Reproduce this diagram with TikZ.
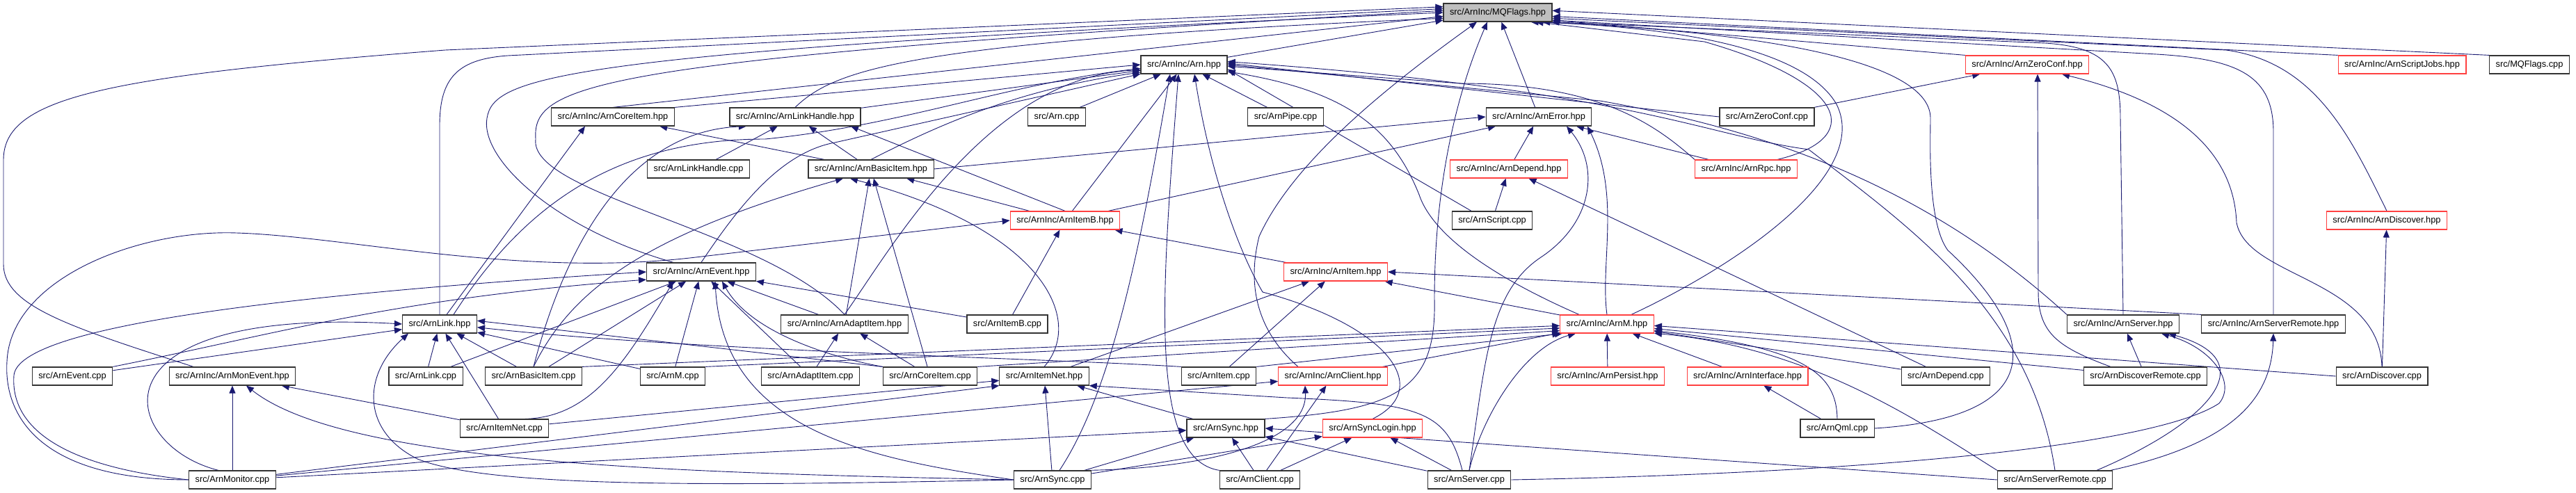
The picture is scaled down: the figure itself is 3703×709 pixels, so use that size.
\documentclass[tikz,border=0pt]{standalone}
\usepackage{fontspec}
\setmainfont{Liberation Sans}
\usetikzlibrary{arrows.meta}
\definecolor{edgeblue}{RGB}{25,25,112}
\definecolor{hdrred}{RGB}{255,64,64}
\definecolor{rootgray}{RGB}{191,191,191}
\pgfdeclarelayer{background}
\pgfsetlayers{background,main}

\begin{document}
\begin{tikzpicture}[
    x=1pt, y=-1pt,
    every node/.style={font=\fontsize{12.8}{15}\selectfont},
    filebox/.style={draw=black!80, line width=1.2pt, rectangle, fill=white, inner xsep=9pt, inner ysep=0pt, minimum height=26pt, text height=9.5pt, text depth=2.5pt},
    redbox/.style={filebox, draw=hdrred},
    rootbox/.style={filebox, fill=rootgray},
    arrow/.style={-{Triangle[length=11pt,width=9pt]}, line width=0.9pt, draw=edgeblue}
]
\useasboundingbox (0,0) rectangle (3703,709);

\node[rootbox] (mq) at (2153,18) {src/ArnInc/MQFlags.hpp};
\node[filebox] (arnh) at (1702,93) {src/ArnInc/Arn.hpp};
\node[redbox] (zeroconfh) at (2914,93) {src/ArnInc/ArnZeroConf.hpp};
\node[redbox] (scriptjobsh) at (3453,93) {src/ArnInc/ArnScriptJobs.hpp};
\node[filebox] (mqflagscpp) at (3636,93) {src/MQFlags.cpp};
\node[filebox] (coreitemh) at (881,168) {src/ArnInc/ArnCoreItem.hpp};
\node[filebox] (linkhandleh) at (1143,168) {src/ArnInc/ArnLinkHandle.hpp};
\node[filebox] (arncpp) at (1519,168) {src/Arn.cpp};
\node[filebox] (pipecpp) at (1848,168) {src/ArnPipe.cpp};
\node[filebox] (errorh) at (2212,168) {src/ArnInc/ArnError.hpp};
\node[filebox] (zeroconfcpp) at (2540,168) {src/ArnZeroConf.cpp};
\node[filebox] (linkhandlecpp) at (1004,243) {src/ArnLinkHandle.cpp};
\node[filebox] (basicitemh) at (1252,243) {src/ArnInc/ArnBasicItem.hpp};
\node[redbox] (dependh) at (2169,243) {src/ArnInc/ArnDepend.hpp};
\node[redbox] (rpch) at (2510,243) {src/ArnInc/ArnRpc.hpp};
\node[redbox] (itembh) at (1531,317) {src/ArnInc/ArnItemB.hpp};
\node[filebox] (scriptcpp) at (2145,317) {src/ArnScript.cpp};
\node[redbox] (discoverh) at (3431,317) {src/ArnInc/ArnDiscover.hpp};
\node[filebox] (eventh) at (1008,391) {src/ArnInc/ArnEvent.hpp};
\node[redbox] (itemh) at (1920,391) {src/ArnInc/ArnItem.hpp};
\node[filebox] (linkh) at (632,466) {src/ArnLink.hpp};
\node[filebox] (adaptitemh) at (1214,466) {src/ArnInc/ArnAdaptItem.hpp};
\node[filebox] (itembcpp) at (1448,466) {src/ArnItemB.cpp};
\node[redbox] (mh) at (2310,466) {src/ArnInc/ArnM.hpp};
\node[filebox] (serverh) at (3052,466) {src/ArnInc/ArnServer.hpp};
\node[filebox] (serverremoteh) at (3268,466) {src/ArnInc/ArnServerRemote.hpp};
\node[filebox] (eventcpp) at (104,541) {src/ArnEvent.cpp};
\node[filebox] (moneventh) at (334,541) {src/ArnInc/ArnMonEvent.hpp};
\node[filebox] (linkcpp) at (612,541) {src/ArnLink.cpp};
\node[filebox] (basicitemcpp) at (767,541) {src/ArnBasicItem.cpp};
\node[filebox] (mcpp) at (967,541) {src/ArnM.cpp};
\node[filebox] (adaptitemcpp) at (1165,541) {src/ArnAdaptItem.cpp};
\node[filebox] (coreitemcpp) at (1337,541) {src/ArnCoreItem.cpp};
\node[filebox] (itemneth) at (1501,541) {src/ArnItemNet.hpp};
\node[filebox] (itemcpp) at (1752,541) {src/ArnItem.cpp};
\node[redbox] (clienth) at (1916,541) {src/ArnInc/ArnClient.hpp};
\node[redbox] (persisth) at (2311,541) {src/ArnInc/ArnPersist.hpp};
\node[redbox] (interfaceh) at (2512,541) {src/ArnInc/ArnInterface.hpp};
\node[filebox] (dependcpp) at (2797,541) {src/ArnDepend.cpp};
\node[filebox] (discoverremotecpp) at (3084,541) {src/ArnDiscoverRemote.cpp};
\node[filebox] (discovercpp) at (3424,541) {src/ArnDiscover.cpp};
\node[filebox] (itemnetcpp) at (725,616) {src/ArnItemNet.cpp};
\node[filebox] (synch) at (1762,616) {src/ArnSync.hpp};
\node[redbox] (syncloginh) at (1973,616) {src/ArnSyncLogin.hpp};
\node[filebox] (qmlcpp) at (2641,616) {src/ArnQml.cpp};
\node[filebox] (monitorcpp) at (334,690) {src/ArnMonitor.cpp};
\node[filebox] (synccpp) at (1513,690) {src/ArnSync.cpp};
\node[filebox] (clientcpp) at (1811,690) {src/ArnClient.cpp};
\node[filebox] (servercpp) at (2112,690) {src/ArnServer.cpp};
\node[filebox] (serverremotecpp) at (2954,690) {src/ArnServerRemote.cpp};

\begin{pgfonlayer}{background}
\draw[arrow] (arnh) -- (mq.188);
\draw[arrow] (coreitemh.north) -- (mq.184);
\draw[arrow] (linkhandleh.north) .. controls (1200,100) and (1300,60) .. (mq.186);
\draw[arrow] ([xshift=-40pt]eventh.north) .. controls (800,330) and (690,230) .. (700,170) .. controls (710,110) and (800,75) .. (mq.180);
\draw[arrow] (adaptitemh.north) .. controls (1100,330) and (760,280) .. (770,200) .. controls (765,120) and (850,85) .. (mq.178);
\draw[arrow] (linkh.north) -- (632,180) .. controls (632,110) and (660,85) .. (730,80) -- (mq.176);
\draw[arrow] ([xshift=-56pt]moneventh.north) .. controls (100,470) and (5,440) .. (5,380) -- (5,230) .. controls (5,140) and (150,110) .. (640,72) -- (mq.174);
\draw[arrow] ([xshift=-50pt]clienth.north) .. controls (1800,470) and (1795,400) .. (1810,340) .. controls (1860,230) and (2000,120) .. ([xshift=-30pt]mq.south);
\draw[arrow] (synch.north east) .. controls (2010,590) and (2065,560) .. (2062,430) .. controls (2062,250) and (2100,120) .. ([xshift=-15pt]mq.south);
\draw[arrow] (errorh) -- (mq);
\draw[arrow] (zeroconfh.north west) -- (mq.352);
\draw[arrow] (scriptjobsh.north west) -- (mq.356);
\draw[arrow] (mqflagscpp.north west) -- (mq.2);
\draw[arrow] (discoverh.north) .. controls (3380,200) and (3330,90) .. (3200,72) -- (mq.354);
\draw[arrow] (serverh.north) -- (3048,170) .. controls (3048,100) and (3030,68) .. (2940,62) -- (mq.350);
\draw[arrow] (serverremoteh.north) -- (3268,190) .. controls (3268,110) and (3220,85) .. (3100,78) -- (mq.352);
\draw[arrow] ([xshift=45pt]rpch.north) .. controls (2680,200) and (2660,120) .. (2450,60) -- (mq.346);
\draw[arrow] ([xshift=35pt]mh.north) .. controls (2500,380) and (2690,250) .. (2640,150) .. controls (2600,80) and (2450,40) .. (mq.344);
\draw[arrow] (qmlcpp.east) .. controls (2950,600) and (2930,480) .. (2800,360) .. controls (2770,320) and (2775,200) .. (2775,170) .. controls (2775,100) and (2600,50) .. (mq.348);

\draw[arrow] (coreitemh.north east) -- (arnh.180);
\draw[arrow] ([xshift=20pt]linkh.north) .. controls (750,300) and (880,200) .. (1100,200) .. controls (1300,180) and (1450,120) .. (arnh.185);
\draw[arrow] (linkhandleh) -- (arnh);
\draw[arrow] (basicitemh.north) .. controls (1330,190) and (1450,130) .. (arnh.190);
\draw[arrow] (eventh.north) .. controls (1060,300) and (1120,220) .. (1200,205) -- (arnh.192);
\draw[arrow] (adaptitemh.north) .. controls (1280,360) and (1420,110) .. (arnh.187);
\draw[arrow] (arncpp) -- (arnh);
\draw[arrow] (itembh) -- (arnh);
\draw[arrow] ([xshift=10pt]synccpp.north) .. controls (1600,560) and (1640,350) .. ([xshift=-20pt]arnh.south);
\draw[arrow] (clientcpp.north west) .. controls (1650,660) and (1670,420) .. ([xshift=-8pt]arnh.south);
\draw[arrow] (syncloginh.north) .. controls (2060,560) and (2000,470) .. (1815,420) .. controls (1780,360) and (1740,250) .. ([xshift=15pt]arnh.south);
\draw[arrow] (pipecpp) -- (arnh);
\draw[arrow] (zeroconfcpp.west) -- (arnh.2);
\draw[arrow] ([xshift=-30pt]scriptcpp.north) -- (arnh.-6);
\draw[arrow] (rpch.north west) .. controls (2380,180) and (2300,120) .. (2100,120) -- (arnh.-2);
\draw[arrow] (serverh.north west) .. controls (2750,250) and (2500,180) .. (2300,145) -- (arnh.0);
\draw[arrow] ([xshift=-40pt]mh.north) .. controls (2150,400) and (2060,340) .. (2040,280) .. controls (2000,180) and (1930,130) .. (arnh.-9);
\draw[arrow] (serverremotecpp.north) .. controls (2920,450) and (2750,330) .. (2600,215) .. controls (2450,195) and (2350,130) .. (arnh.4);

\draw[arrow] ([xshift=10pt]linkh.north) -- ([xshift=-40pt]coreitemh.south);
\draw[arrow] (basicitemh) -- (coreitemh);
\draw[arrow] (basicitemcpp.north) .. controls (800,400) and (880,190) .. ([xshift=-70pt]linkhandleh.south);
\draw[arrow] (linkhandlecpp) -- (linkhandleh);
\draw[arrow] (basicitemh) -- (linkhandleh);
\draw[arrow] (itembh.north) -- ([xshift=80pt]linkhandleh.south);
\draw[arrow] (adaptitemh) -- (basicitemh);
\draw[arrow] (coreitemcpp) -- (basicitemh);
\draw[arrow] (itembh) -- (basicitemh);
\draw[arrow] (itemneth.north) .. controls (1560,460) and (1500,330) .. ([xshift=-30pt]basicitemh.south);
\draw[arrow] (basicitemcpp.north) .. controls (820,420) and (920,340) .. ([xshift=-40pt]basicitemh.south);

\draw[arrow] (monitorcpp.west) .. controls (60,690) and (5,600) .. (10,520) .. controls (15,400) and (200,330) .. (340,335) .. controls (500,340) and (750,400) .. (1000,370) -- (itembh.west);
\draw[arrow] (itembcpp) -- (itembh);
\draw[arrow] (itemh) -- (itembh);

\draw[arrow] (basicitemh.east) -- (errorh.west);
\draw[arrow] (itembh) -- (errorh);
\draw[arrow] (dependh) -- (errorh);
\draw[arrow] (servercpp.north) .. controls (2135,520) and (2140,420) .. (2215,370) .. controls (2290,320) and (2300,240) .. ([xshift=40pt]errorh.south);
\draw[arrow] (rpch) -- (errorh);
\draw[arrow] (mh.north) .. controls (2300,380) and (2330,280) .. ([xshift=70pt]errorh.south);
\draw[arrow] (scriptcpp) -- (dependh);
\draw[arrow] (dependcpp) -- (dependh);

\draw[arrow] (serverremoteh.north west) -- (itemh.east);
\draw[arrow] (itemneth) -- (itemh);
\draw[arrow] (itemcpp) -- (itemh);
\draw[arrow] (mh) -- (itemh);

\draw[arrow] (basicitemcpp.north east) -- (mh.182);
\draw[arrow] (mcpp.north east) -- (mh.185);
\draw[arrow] (coreitemcpp.north east) -- (mh.188);
\draw[arrow] (itemcpp.north east) -- (mh.192);
\draw[arrow] (clienth) -- (mh);
\draw[arrow] (servercpp.north) .. controls (2130,600) and (2190,500) .. ([xshift=-45pt]mh.south);
\draw[arrow] (persisth) -- (mh);
\draw[arrow] (interfaceh) -- (mh);
\draw[arrow] (dependcpp) -- (mh);
\draw[arrow] (qmlcpp.north) .. controls (2640,540) and (2600,500) .. (mh.-8);
\draw[arrow] (discovercpp.west) -- (mh.-2);
\draw[arrow] (discoverremotecpp) -- (mh);
\draw[arrow] (serverremotecpp.north west) .. controls (2750,600) and (2600,500) .. (mh.-11);

\draw[arrow] (monitorcpp.west) .. controls (80,670) and (15,610) .. (20,540) .. controls (25,480) and (300,430) .. (eventh.west);
\draw[arrow] (eventcpp.north east) .. controls (400,480) and (560,430) .. (eventh.188);
\draw[arrow] (linkcpp) -- (eventh);
\draw[arrow] (basicitemcpp) -- (eventh);
\draw[arrow] ([xshift=30pt]itemnetcpp.north) .. controls (850,600) and (900,520) .. ([xshift=-40pt]eventh.south);
\draw[arrow] (mcpp) -- (eventh);
\draw[arrow] (synccpp.west) .. controls (1250,660) and (1040,620) .. ([xshift=20pt]eventh.south);
\draw[arrow] (adaptitemcpp) -- (eventh);
\draw[arrow] (coreitemcpp.north west) .. controls (1200,515) and (1080,480) .. ([xshift=30pt]eventh.south);
\draw[arrow] (adaptitemh) -- (eventh);
\draw[arrow] (itembcpp) -- (eventh);

\draw[arrow] (eventcpp) -- (linkh);
\draw[arrow] ([xshift=-20pt]monitorcpp.north) .. controls (170,640) and (120,440) .. (linkh.west);
\draw[arrow] (itemnetcpp) -- (linkh);
\draw[arrow] (synccpp.west) .. controls (1000,700) and (700,700) .. (600,660) .. controls (520,620) and (520,540) .. ([xshift=-45pt]linkh.south);
\draw[arrow] (linkcpp) -- (linkh);
\draw[arrow] (basicitemcpp) -- (linkh);
\draw[arrow] (mcpp) -- (linkh);
\draw[arrow] (itemcpp.north west) .. controls (1500,515) and (1000,505) .. (linkh.-5);
\draw[arrow] (coreitemcpp.north west) -- (linkh.5);

\draw[arrow] (adaptitemcpp) -- (adaptitemh);
\draw[arrow] (coreitemcpp) -- (adaptitemh);
\draw[arrow] (monitorcpp) -- (moneventh);
\draw[arrow] (itemnetcpp) -- (moneventh);
\draw[arrow] (synccpp.west) .. controls (1000,680) and (500,670) .. ([xshift=20pt]moneventh.south);

\draw[arrow] (monitorcpp) -- (clienth);
\draw[arrow] (synccpp.north) .. controls (1720,680) and (1880,640) .. ([xshift=-40pt]clienth.south);
\draw[arrow] (clientcpp) -- (clienth);
\draw[arrow] (monitorcpp) -- (synch);
\draw[arrow] (synccpp) -- (synch);
\draw[arrow] (clientcpp) -- (synch);
\draw[arrow] (servercpp) -- (synch);
\draw[arrow] (serverremotecpp.west) -- (synch.east);
\draw[arrow] (synccpp) -- (itemneth);
\draw[arrow] (itemnetcpp) -- (itemneth);
\draw[arrow] (monitorcpp) -- (itemneth.south west);
\draw[arrow] (synch) -- (itemneth);
\draw[arrow] ([xshift=-10pt]servercpp.north) .. controls (2080,590) and (2040,580) .. (1850,572) -- (itemneth.south east);
\draw[arrow] (synccpp) -- (syncloginh);
\draw[arrow] (clientcpp) -- (syncloginh);
\draw[arrow] (servercpp) -- (syncloginh);

\draw[arrow] (discovercpp) -- (discoverh);
\draw[arrow] (zeroconfcpp) -- (zeroconfh);
\draw[arrow] ([xshift=-50pt]discoverremotecpp.north) .. controls (2960,500) and (2930,480) .. (2930,420) -- ([xshift=15pt]zeroconfh.south);
\draw[arrow] (discovercpp.north) .. controls (3420,400) and (3230,400) .. (3215,320) .. controls (3210,200) and (3100,140) .. ([xshift=50pt]zeroconfh.south);
\draw[arrow] (qmlcpp) -- (interfaceh);
\draw[arrow] ([xshift=80pt]serverremotecpp.north) .. controls (3200,640) and (3265,580) .. (serverremoteh.south);
\draw[arrow] (discoverremotecpp) -- (serverh);
\draw[arrow] (servercpp.east) .. controls (2700,680) and (3100,640) .. (3190,580) .. controls (3215,550) and (3180,500) .. ([xshift=55pt]serverh.south);
\draw[arrow] ([xshift=60pt]serverremotecpp.north) .. controls (3170,610) and (3260,520) .. ([xshift=65pt]serverh.south);
\end{pgfonlayer}
\end{tikzpicture}
\end{document}
